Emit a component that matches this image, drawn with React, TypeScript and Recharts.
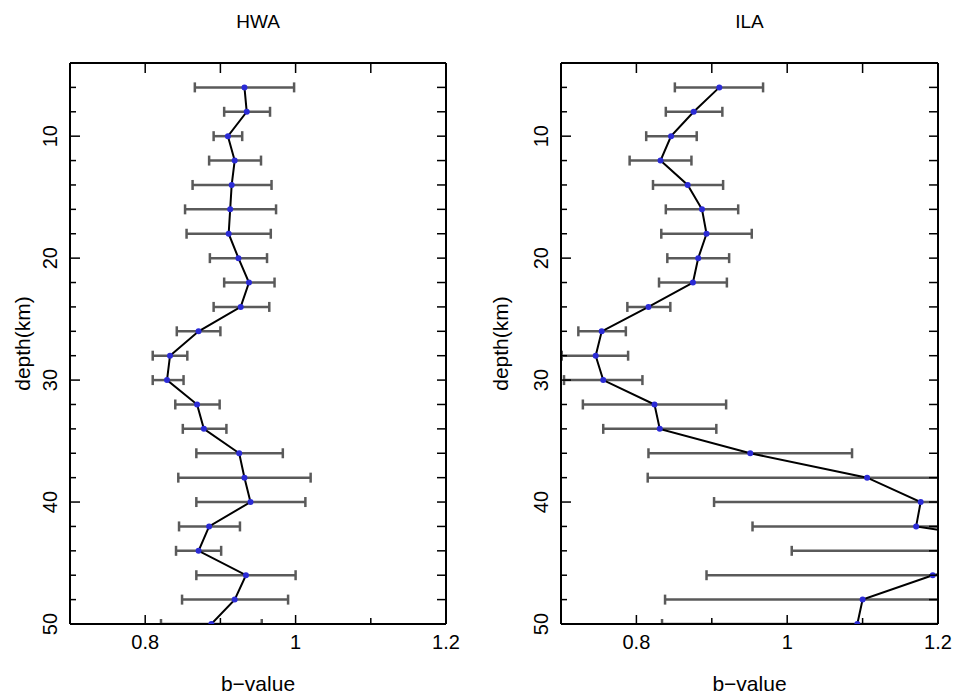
import React from 'react';
import { ScatterChart, Scatter, XAxis, YAxis, ErrorBar } from 'recharts';

// depth (km) of each sample
const depths = [6, 8, 10, 12, 14, 16, 18, 20, 22, 24, 26, 28, 30, 32, 34, 36, 38, 40, 42, 44, 46, 48, 50];

// HWA b-value and error-bar ends
const hwaB = [0.932, 0.935, 0.910, 0.919, 0.915, 0.913, 0.911, 0.924, 0.938, 0.927, 0.871, 0.833, 0.829, 0.869, 0.878, 0.925, 0.932, 0.940, 0.885, 0.871, 0.934, 0.919, 0.888];
const hwaLow = [0.866, 0.905, 0.891, 0.885, 0.863, 0.853, 0.855, 0.886, 0.905, 0.891, 0.842, 0.810, 0.810, 0.840, 0.850, 0.868, 0.844, 0.868, 0.845, 0.841, 0.868, 0.849, 0.821];
const hwaHigh = [0.998, 0.966, 0.929, 0.954, 0.968, 0.974, 0.967, 0.962, 0.972, 0.965, 0.900, 0.856, 0.851, 0.899, 0.908, 0.983, 1.020, 1.013, 0.926, 0.901, 1.000, 0.990, 0.955];

// ILA b-value and error-bar ends
const ilaB = [0.910, 0.876, 0.846, 0.832, 0.868, 0.887, 0.893, 0.882, 0.875, 0.816, 0.754, 0.746, 0.756, 0.824, 0.831, 0.951, 1.106, 1.177, 1.171, 1.380, 1.193, 1.100, 1.093];
const ilaLow = [0.851, 0.839, 0.813, 0.791, 0.822, 0.839, 0.833, 0.841, 0.830, 0.788, 0.723, 0.701, 0.704, 0.729, 0.756, 0.816, 0.815, 0.903, 0.954, 1.006, 0.893, 0.838, 0.834];
const ilaHigh = [0.968, 0.914, 0.880, 0.873, 0.915, 0.935, 0.953, 0.923, 0.920, 0.845, 0.786, 0.789, 0.808, 0.919, 0.906, 1.086, 1.400, 1.450, 1.390, 1.750, 1.490, 1.360, 1.350];

const xTicks = [0.7, 0.8, 0.9, 1.0, 1.1, 1.2];
const xLabelTicks = [0.8, 1.0, 1.2];
const yTicks = depths;
const yLabelTicks = [10, 20, 30, 40, 50];

const FONT = "'Liberation Sans', Arial, sans-serif";
const TITLE_FONT = "'Liberation Sans Narrow', 'Liberation Sans', Arial, sans-serif";

const buildRows = (b: number[], low: number[], high: number[]) =>
  depths.map((d, i) => ({ depth: d, b: b[i], err: [b[i] - low[i], high[i] - b[i]] }));

const isIn = (list: number[], v: number) => list.some((t) => Math.abs(t - v) < 1e-6);
const fmtX = (v: number) => (Math.abs(v - 1) < 1e-6 ? '1' : v.toFixed(1));

const BottomTick = (props: any) => {
  const { x, y, payload } = props;
  const v = payload.value;
  const major = isIn(xLabelTicks, v);
  return (
    <g>
      <line x1={x} y1={y} x2={x} y2={y - (major ? 9 : 6)} stroke="#000" strokeWidth={1.5} />
      {major && (
        <text x={x} y={y + 25} textAnchor="middle" fontSize={20} fontFamily={FONT} fill="#000">
          {fmtX(v)}
        </text>
      )}
    </g>
  );
};

const TopTick = (props: any) => {
  const { x, y } = props;
  return <line x1={x} y1={y} x2={x} y2={y + 10} stroke="#000" strokeWidth={1.5} />;
};

const LeftTick = (props: any) => {
  const { x, y, payload } = props;
  const v = payload.value;
  const major = isIn(yLabelTicks, v);
  return (
    <g>
      <line x1={x} y1={y} x2={x + (major ? 10 : 6)} y2={y} stroke="#000" strokeWidth={1.5} />
      {major && (
        <text
          x={x - 20}
          y={y}
          transform={`rotate(-90 ${x - 20} ${y})`}
          textAnchor="middle"
          dominantBaseline="central"
          fontSize={20}
          fontFamily={FONT}
          fill="#000"
        >
          {v}
        </text>
      )}
    </g>
  );
};

const RightTick = (props: any) => {
  const { x, y } = props;
  return <line x1={x} y1={y} x2={x - 9} y2={y} stroke="#000" strokeWidth={1.5} />;
};

const Dot = (props: any) => {
  const { cx, cy } = props;
  if (cx == null || cy == null) return null;
  return <circle cx={cx} cy={cy} r={3} fill="#2b2bd6" />;
};

const NoDot = () => null;

const YLabel = (props: any) => {
  const vb = props.viewBox || {};
  const cx = vb.x + 22;
  const cy = vb.y + vb.height / 2;
  return (
    <text
      x={cx}
      y={cy}
      transform={`rotate(-90 ${cx} ${cy})`}
      textAnchor="middle"
      dominantBaseline="central"
      fontSize={21}
      fontFamily={FONT}
      fill="#000"
    >
      depth(km)
    </text>
  );
};

const XLabel = (props: any) => {
  const vb = props.viewBox || {};
  return (
    <text x={vb.x + vb.width / 2} y={vb.y + 67} textAnchor="middle" fontSize={21} fontFamily={FONT} fill="#000">
      b−value
    </text>
  );
};

type PanelProps = {
  id: string;
  title: string;
  rows: any[];
  left: number;
  width: number;
  yAxisWidth: number;
  rightMargin: number;
};

const Panel = ({ id, title, rows, left, width, yAxisWidth, rightMargin }: PanelProps) => {
  const plotW = width - yAxisWidth - rightMargin;
  return (
    <div id={`panel-${id}`} style={{ position: 'absolute', left, top: 0, width, height: 695 }}>
      <style>{`#panel-${id} .recharts-errorBars, #panel-${id} .recharts-errorBar { clip-path: url(#clipPath-${id}); }`}</style>
      <div
        style={{
          position: 'absolute',
          left: yAxisWidth,
          width: plotW,
          top: 12,
          textAlign: 'center',
          fontFamily: TITLE_FONT,
          fontSize: 19,
          lineHeight: '20px',
          color: '#000',
        }}
      >
        {title}
      </div>
      <ScatterChart width={width} height={695} margin={{ top: 63, right: rightMargin, bottom: 0, left: 0 }}>
        <XAxis
          xAxisId="bottom"
          dataKey="b"
          type="number"
          domain={[0.7, 1.2]}
          allowDataOverflow
          ticks={xTicks}
          interval={0}
          height={71}
          tickSize={0}
          tickMargin={0}
          tickLine={false}
          tick={<BottomTick />}
          axisLine={{ stroke: '#000', strokeWidth: 2 }}
          label={<XLabel />}
        />
        <XAxis
          xAxisId="top"
          orientation="top"
          dataKey="b"
          type="number"
          domain={[0.7, 1.2]}
          allowDataOverflow
          ticks={xTicks}
          interval={0}
          mirror
          height={1}
          tickSize={0}
          tickMargin={0}
          tickLine={false}
          tick={<TopTick />}
          axisLine={{ stroke: '#000', strokeWidth: 2 }}
        />
        <YAxis
          yAxisId="left"
          dataKey="depth"
          type="number"
          domain={[4, 50]}
          reversed
          allowDataOverflow
          ticks={yTicks}
          interval={0}
          width={yAxisWidth}
          tickSize={0}
          tickMargin={0}
          tickLine={false}
          tick={<LeftTick />}
          axisLine={{ stroke: '#000', strokeWidth: 2 }}
          label={<YLabel />}
        />
        <YAxis
          yAxisId="right"
          orientation="right"
          dataKey="depth"
          type="number"
          domain={[4, 50]}
          reversed
          allowDataOverflow
          ticks={yTicks}
          interval={0}
          mirror
          width={1}
          tickSize={0}
          tickMargin={0}
          tickLine={false}
          tick={<RightTick />}
          axisLine={{ stroke: '#000', strokeWidth: 2 }}
        />
        <Scatter
          id={`${id}-frame`}
          xAxisId="top"
          yAxisId="right"
          data={rows}
          dataKey="b"
          shape={<NoDot />}
          legendType="none"
          isAnimationActive={false}
        />
        <Scatter
          id={id}
          xAxisId="bottom"
          yAxisId="left"
          data={rows}
          dataKey="b"
          line={{ stroke: '#000', strokeWidth: 2 }}
          lineType="joint"
          shape={<Dot />}
          isAnimationActive={false}
        >
          <ErrorBar
            dataKey="err"
            direction="x"
            stroke="#5a5a5a"
            strokeWidth={2.5}
            width={5}
            clipPath={`url(#clipPath-${id})`}
            isAnimationActive={false}
          />
        </Scatter>
      </ScatterChart>
    </div>
  );
};

export default function App() {
  return (
    <div style={{ position: 'absolute', left: 0, top: 0, width: 957, height: 695, background: '#fff' }}>
      <Panel id="hwa" title="HWA" rows={buildRows(hwaB, hwaLow, hwaHigh)} left={0} width={478} yAxisWidth={70} rightMargin={32} />
      <Panel id="ila" title="ILA" rows={buildRows(ilaB, ilaLow, ilaHigh)} left={478} width={479} yAxisWidth={83} rightMargin={19} />
    </div>
  );
}
